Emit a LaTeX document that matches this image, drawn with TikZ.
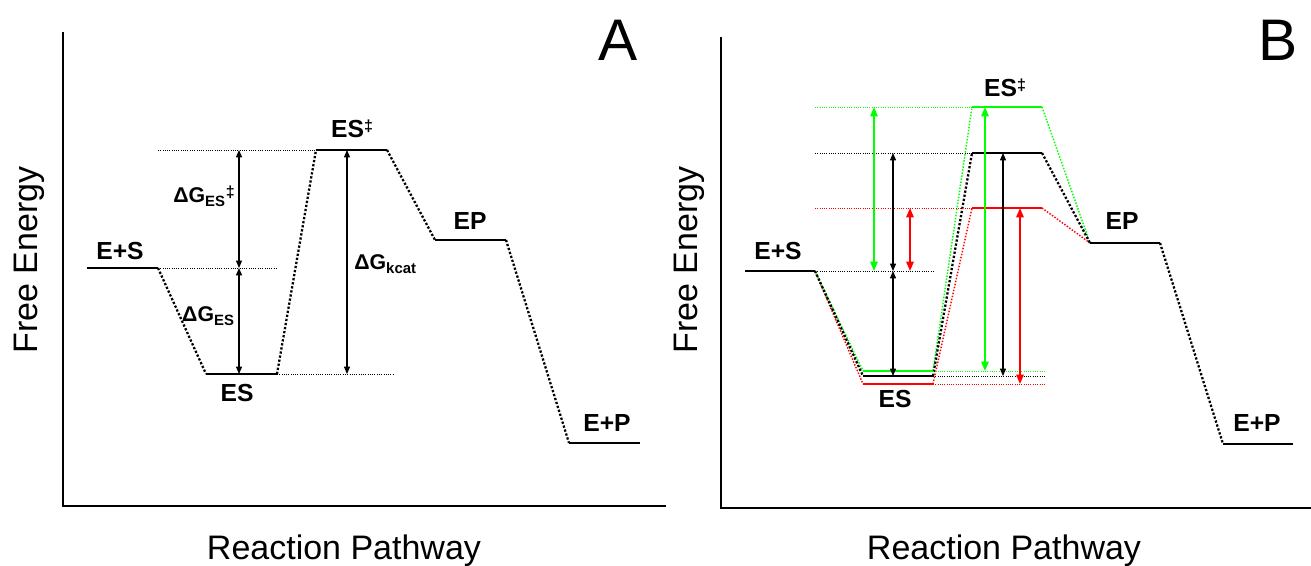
\documentclass[tikz,border=0pt]{standalone}
\usepackage{fontspec}
\setmainfont{Liberation Sans}
\usetikzlibrary{arrows.meta}
\definecolor{grn}{RGB}{0,255,0}
\definecolor{rd}{RGB}{255,0,0}
\newcommand{\mydbldag}{\raisebox{0.28em}{\fontsize{12}{12}\selectfont ‡}}
\begin{document}
\begin{tikzpicture}[x=0.75pt,y=-0.75pt,
  level/.style={line width=2.2pt},
  conn/.style={line width=1.7pt, dash pattern=on 1.7pt off 1.4pt},
  cconn/.style={line width=1.1pt, dash pattern=on 1.1pt off 1.2pt},
  ref/.style={line width=0.7pt, dash pattern=on 0.7pt off 1pt},
  dimarrow/.style={line width=0.8pt, {Triangle[length=5.5pt,width=4.5pt]}-{Triangle[length=5.5pt,width=4.5pt]}},
  cdimarrow/.style={line width=1.4pt, {Triangle[length=7pt,width=5.5pt]}-{Triangle[length=7pt,width=5.5pt]}},
  lab/.style={font=\fontsize{18.5}{18.5}\selectfont\bfseries, inner sep=0pt, anchor=base},
  dlab/.style={font=\fontsize{16}{16}\selectfont\bfseries, inner sep=0pt},
  axlab/.style={font=\fontsize{25.5}{26}\selectfont, inner sep=0pt},
  axisline/.style={line width=1.5pt},
]
\useasboundingbox (0,0) rectangle (1311,566);

% ================= Panel A =================
\draw[axisline] (63,32) -- (63,506) -- (666,506);
\node[axlab, rotate=90] (afe) at (29,260) {Free Energy};
\node[axlab, anchor=base] (arp) at (344,560) {Reaction Pathway};
\node[font=\fontsize{44}{44}\selectfont, inner sep=0pt, anchor=base] (alA) at (618,61) {A};

\coordinate (aES1) at (87,268);  \coordinate (aES2) at (158,268);
\coordinate (aC1) at (206,374);  \coordinate (aC2) at (277,374);
\coordinate (aT1) at (316,150);  \coordinate (aT2) at (387,150);
\coordinate (aP1) at (435,240);  \coordinate (aP2) at (506,240);
\coordinate (aF1) at (569,443);  \coordinate (aF2) at (640,443);

\draw[level] (aES1) -- (aES2);
\draw[level] (aC1) -- (aC2);
\draw[level] (aT1) -- (aT2);
\draw[level] (aP1) -- (aP2);
\draw[level] (aF1) -- (aF2);

\draw[conn] (aES2) -- (aC1);
\draw[conn] (aC2) -- (aT1);
\draw[conn] (aT2) -- (aP1);
\draw[conn] (aP2) -- (aF1);

\coordinate (aR1) at (158,150);
\coordinate (aR2) at (277,268);
\coordinate (aR3) at (393,374);
\draw[ref] (aR1) -- (aT1);
\draw[ref] (aES2) -- (aR2);
\draw[ref] (aC2) -- (aR3);

\coordinate (aa1) at (239,150); \coordinate (aa2) at (239,268); \coordinate (aa3) at (239,374);
\coordinate (ab1) at (347,150); \coordinate (ab2) at (347,374);
\draw[dimarrow] (aa1) -- (aa2);
\draw[dimarrow] (aa2) -- (aa3);
\draw[dimarrow] (ab1) -- (ab2);

\node[dlab, anchor=east] (adg1) at (235,196) {ΔG\textsubscript{ES}\mydbldag};
\node[dlab, anchor=east] (adg2) at (235,316) {ΔG\textsubscript{ES}};
\node[dlab, anchor=west] (adg3) at (354,264) {ΔG\textsubscript{kcat}};

\node[lab] (alES) at (120,260) {E+S};
\node[lab] (alC) at (237,402) {ES};
\node[lab] (alT) at (352,138) {ES\mydbldag};
\node[lab] (alP) at (470,230) {EP};
\node[lab] (alF) at (607,432) {E+P};

% ================= Panel B =================
\draw[axisline] (721,37) -- (721,508) -- (1311,508);
\node[axlab, rotate=90] (bfe) at (689,260) {Free Energy};
\node[axlab, anchor=base] (brp) at (1004,560) {Reaction Pathway};
\node[font=\fontsize{44}{44}\selectfont, inner sep=0pt, anchor=base] (blB) at (1278,61) {B};

\coordinate (bES1) at (745,271); \coordinate (bES2) at (815,271);
\coordinate (bCg1) at (863,371); \coordinate (bCg2) at (933,371);
\coordinate (bCk1) at (863,376); \coordinate (bCk2) at (933,376);
\coordinate (bCr1) at (863,384); \coordinate (bCr2) at (933,384);
\coordinate (bTg1) at (972,107); \coordinate (bTg2) at (1042,107);
\coordinate (bTk1) at (972,153); \coordinate (bTk2) at (1042,153);
\coordinate (bTr1) at (972,208); \coordinate (bTr2) at (1042,208);
\coordinate (bP1) at (1090,243); \coordinate (bP2) at (1160,243);
\coordinate (bF1) at (1223,444); \coordinate (bF2) at (1293,444);

% connectors
\draw[cconn, rd] (bES2) -- (bCr1);
\draw[cconn, grn] (bES2) -- (bCg1);
\draw[conn] (bES2) -- (bCk1);
\draw[cconn, rd] (bCr2) -- (bTr1);
\draw[cconn, grn] (bCg2) -- (bTg1);
\draw[conn] (bCk2) -- (bTk1);
\draw[cconn, rd] (bTr2) -- (bP1);
\draw[cconn, grn] (bTg2) -- (bP1);
\draw[conn] (bTk2) -- (bP1);
\draw[conn] (bP2) -- (bF1);

% reference lines
\coordinate (bRg) at (815,107); \coordinate (bRk) at (815,153); \coordinate (bRr) at (815,208);
\coordinate (bRe) at (933,271);
\coordinate (bRg2) at (1045,371); \coordinate (bRk2) at (1045,376); \coordinate (bRr2) at (1045,384);
\draw[ref, grn] (bRg) -- (bTg1);
\draw[ref] (bRk) -- (bTk1);
\draw[ref, rd] (bRr) -- (bTr1);
\draw[ref] (bES2) -- (bRe);
\draw[ref, grn] (bCg2) -- (bRg2);
\draw[ref] (bCk2) -- (bRk2);
\draw[ref, rd] (bCr2) -- (bRr2);

% levels
\draw[level] (bES1) -- (bES2);
\draw[level, rd] (bCr1) -- (bCr2);
\draw[level] (bCk1) -- (bCk2);
\draw[level, grn] (bCg1) -- (bCg2);
\draw[level, grn] (bTg1) -- (bTg2);
\draw[level] (bTk1) -- (bTk2);
\draw[level, rd] (bTr1) -- (bTr2);
\draw[level] (bP1) -- (bP2);
\draw[level] (bF1) -- (bF2);

% arrows
\coordinate (bg1) at (874,107); \coordinate (bg2) at (874,271);
\coordinate (bk1) at (893,153); \coordinate (bk2) at (893,271); \coordinate (bk3) at (893,376);
\coordinate (br1) at (910,208); \coordinate (br2) at (910,271);
\coordinate (bG1) at (985,107); \coordinate (bG2) at (985,371);
\coordinate (bK1) at (1003,153); \coordinate (bK2) at (1003,376);
\coordinate (bX1) at (1020,208); \coordinate (bX2) at (1020,384);
\draw[cdimarrow, grn] (bg1) -- (bg2);
\draw[dimarrow] (bk1) -- (bk2);
\draw[cdimarrow, rd] (br1) -- (br2);
\draw[dimarrow] (bk2) -- (bk3);
\draw[cdimarrow, grn] (bG1) -- (bG2);
\draw[dimarrow] (bK1) -- (bK2);
\draw[cdimarrow, rd] (bX1) -- (bX2);

\node[lab] (blES) at (778,260) {E+S};
\node[lab] (blC) at (895,408) {ES};
\node[lab] (blT) at (1005,97) {ES\mydbldag};
\node[lab] (blP) at (1122,230) {EP};
\node[lab] (blF) at (1257,432) {E+P};
\end{tikzpicture}
\end{document}
